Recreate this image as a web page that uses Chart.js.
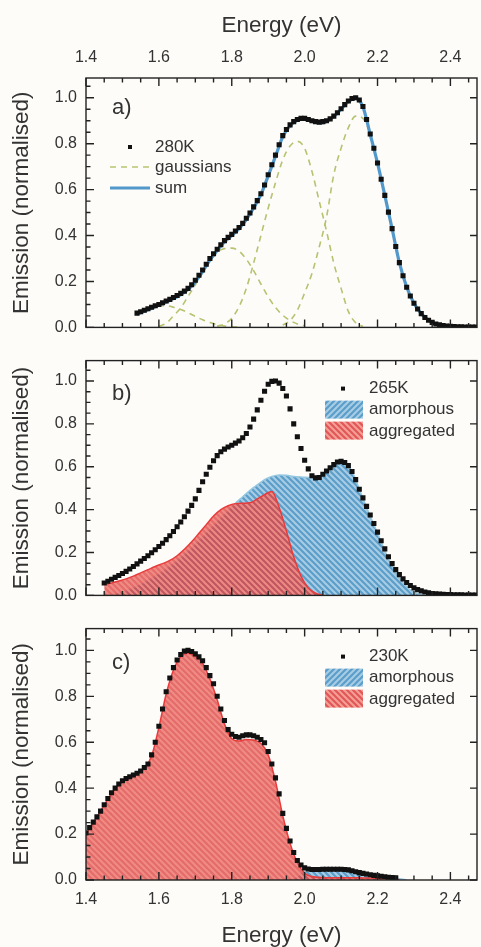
<!DOCTYPE html>
<html>
<head>
<meta charset="utf-8">
<script src="https://cdn.jsdelivr.net/npm/chart.js@4"></script>
<style>
  body { margin: 0; background: #fdfcf9; }
  #fig { position: relative; width: 481px; height: 947px; }
  .painel { position: absolute; left: 0; width: 481px; }
</style>
</head>
<body>
<div id="fig">
  <div class="painel" style="top:0;height:346px"><canvas id="graficoA"></canvas></div>
  <div class="painel" style="top:342px;height:272px"><canvas id="graficoB"></canvas></div>
  <div class="painel" style="top:610px;height:337px"><canvas id="graficoC"></canvas></div>
</div>
<script>
// ticks
const ticksX = [1.4, 1.6, 1.8, 2.0, 2.2, 2.4]
const ticksY = [0, 0.2, 0.4, 0.6, 0.8, 1.0]

// a) 280K, energia de 1.54 a 2.47 passo 0.01
const inicioA = 1.54
const dados280 = [
  .062,.068,.075,.081,.088,.094,.100,.107,.115,.122,
  .130,.139,.148,.158,.170,.186,.205,.227,.250,.275,
  .300,.321,.340,.360,.378,.392,.405,.420,.435,.453,
  .475,.498,.525,.552,.582,.620,.665,.708,.750,.795,
  .835,.862,.882,.896,.905,.910,.910,.905,.900,.896,
  .894,.896,.900,.908,.920,.935,.952,.970,.986,.997,
  1.0,.990,.962,.905,.842,.780,.716,.645,.575,.502,
  .430,.352,.282,.225,.175,.137,.105,.080,.060,.043,
  .031,.022,.015,.011,.008,.006,.005,.004,.003,.003,
  .002,.002,.002,.002
]
// soma das gaussianas, passo 0.02 a partir de 1.54
const soma280 = [
  .058,.070,.083,.096,.110,.125,.143,.165,.198,.243,
  .293,.335,.372,.400,.430,.470,.520,.578,.660,.745,
  .830,.878,.902,.907,.897,.891,.897,.918,.950,.984,
  .997,.960,.840,.715,.575,.430,.282,.176,.105,.060,
  .031,.015,.008,.005,.003,.002,.002
]
// gaussianas, passo 0.02
const inicioG0 = 1.54
const gauss0 = [.065,.078,.088,.094,.094,.088,.078,.064,.048,.033,.021,.012,.006,.003,.001]
const inicioG1 = 1.60
const gauss1 = [.005,.018,.050,.085,.135,.185,.240,.290,.328,.343,.345,.332,.297,.247,.189,.133,.087,.053,.030,.015,.007]
const inicioG2 = 1.76
const gauss2 = [.005,.015,.040,.090,.170,.280,.400,.520,.630,.730,.790,.810,.780,.680,.550,.420,.280,.170,.070,.020,.005]
const inicioG3 = 1.94
const gauss3 = [.010,.030,.075,.150,.235,.350,.480,.665,.780,.870,.920,.910,.840,.715,.575,.430,.280,.175,.105,.060,.030,.015,.008,.004]

// b) 265K, 1.45 a 2.47 passo 0.01
const inicioB = 1.45
const dados265 = [
  .058,.066,.075,.084,.093,.102,.112,.123,.135,.147,
  .160,.172,.185,.199,.213,.228,.243,.260,.278,.298,
  .320,.342,.367,.393,.420,.450,.490,.530,.565,.598,
  .628,.652,.670,.682,.692,.700,.710,.720,.735,.755,
  .785,.822,.865,.910,.952,.985,.998,1.0,.990,.965,
  .930,.870,.800,.740,.685,.630,.590,.558,.548,.550,
  .565,.580,.595,.610,.622,.625,.620,.605,.578,.540,
  .495,.455,.415,.375,.335,.295,.255,.217,.180,.148,
  .120,.097,.077,.060,.046,.035,.027,.021,.016,.012,
  .009,.007,.006,.005,.004,.004,.003,.003,.003,.002,
  .002,.002,.002
]
// areas, passo 0.02
const inicioAmorfoB = 1.47
const amorfo265 = [
  0,.010,.020,.035,.050,.070,.090,.110,.135,.160,
  .190,.220,.255,.290,.325,.360,.395,.430,.460,.490,
  .515,.540,.555,.562,.560,.555,.552,.550,.548,.565,
  .595,.620,.620,.578,.495,.410,.330,.250,.170,.105,
  .060,.025,.008,0
]
const inicioAgregB = 1.45
const agregado265 = [
  .050,.058,.067,.077,.090,.105,.120,.135,.148,.163,
  .185,.215,.250,.290,.330,.370,.400,.418,.428,.430,
  .432,.450,.470,.485,.410,.300,.180,.090,.035,.010,0
]

// c) 230K, 1.40 a 2.25 passo 0.01
const inicioC = 1.40
const dados230 = [
  .205,.228,.252,.275,.300,.328,.355,.380,.400,.418,
  .432,.442,.450,.457,.465,.475,.490,.505,.545,.600,
  .670,.745,.820,.880,.925,.958,.982,.997,1.0,.995,
  .985,.972,.955,.925,.890,.855,.800,.745,.695,.655,
  .635,.625,.622,.628,.632,.632,.628,.622,.612,.598,
  .560,.505,.445,.375,.290,.225,.170,.120,.085,.065,
  .053,.048,.046,.046,.046,.047,.047,.047,.047,.047,
  .047,.046,.044,.040,.036,.032,.029,.026,.023,.020,
  .018,.016,.014,.012,.011,.010
]
const inicioAgregC = 1.40
const agregado230 = [
  .200,.250,.300,.352,.397,.428,.445,.460,.485,.540,
  .665,.810,.915,.972,.988,.975,.945,.875,.785,.680,
  .615,.605,.612,.610,.595,.545,.430,.280,.160,.075,
  .030,.015,.012,.010,.010,.010,.010,.010,.009,.009,
  .009,.008,.008,0
]
const inicioAmorfoC = 1.96
const amorfo230 = [0,.010,.035,.042,.043,.043,.043,.042,.041,.040,.033,.025,.020,.015,.010,.006,0]

const fonte = '"Liberation Sans", Arial, sans-serif'
const corTexto = '#333'

function serie(inicio, passo, valores) {
  return valores.map((v, i) => ({ x: +(inicio + i * passo).toFixed(3), y: v }))
}

function hachura(fundo, listra, sentido) {
  const c = document.createElement('canvas')
  c.width = 6; c.height = 6
  const g = c.getContext('2d')
  g.fillStyle = fundo
  g.fillRect(0, 0, 6, 6)
  g.strokeStyle = listra
  g.lineWidth = 2
  g.beginPath()
  if (sentido == '\\') {
    g.moveTo(-1, -1); g.lineTo(7, 7)
    g.moveTo(-1, 5); g.lineTo(1, 7)
    g.moveTo(5, -1); g.lineTo(7, 1)
  } else {
    g.moveTo(-1, 7); g.lineTo(7, -1)
    g.moveTo(-1, 1); g.lineTo(1, -1)
    g.moveTo(5, 7); g.lineTo(7, 5)
  }
  g.stroke()
  return g.createPattern(c, 'repeat')
}

const azulFill = hachura('rgb(92,158,202)', 'rgb(168,205,228)', '\\')
const vermelhoFill = hachura('rgba(220,66,66,0.78)', 'rgba(244,150,140,0.78)', '\\')
const azulLeg = hachura('rgb(92,158,202)', 'rgb(168,205,228)', '/')
const vermelhoLeg = hachura('rgb(226,88,88)', 'rgb(244,160,150)', '\\')

// marcas dos eixos, para dentro
const marcas = {
  id: 'marcas',
  afterDraw(chart) {
    const ctx = chart.ctx
    const a = chart.chartArea
    const x = chart.scales.x
    const y = chart.scales.y
    ctx.save()
    ctx.strokeStyle = '#222'
    ctx.lineWidth = 1.4
    ctx.strokeRect(a.left, a.top, a.right - a.left, a.bottom - a.top)
    ctx.beginPath()
    for (let i = 0; i <= 21; i++) {
      const v = 1.4 + i * 0.05
      const px = x.getPixelForValue(v)
      if (px > a.right) break
      const len = i % 4 == 0 ? 8 : 4.5
      ctx.moveTo(px, a.bottom); ctx.lineTo(px, a.bottom - len)
      ctx.moveTo(px, a.top); ctx.lineTo(px, a.top + len)
    }
    for (let i = 0; i <= 21; i++) {
      const py = y.getPixelForValue(i * 0.05)
      if (py < a.top) break
      const maior = i % 4 == 0
      const len = maior ? 8 : 4.5
      ctx.moveTo(a.left, py); ctx.lineTo(a.left + len, py)
      if (maior) { ctx.moveTo(a.right, py); ctx.lineTo(a.right - 7, py) }
    }
    ctx.stroke()
    ctx.restore()
  }
}

const legendaInterna = {
  id: 'legendaInterna',
  afterDraw(chart, args, o) {
    const ctx = chart.ctx
    const a = chart.chartArea
    ctx.save()
    ctx.textBaseline = 'middle'
    ctx.fillStyle = corTexto
    ctx.font = '22px ' + fonte
    ctx.fillText(o.rotulo, a.left + 26, a.top + o.rotuloY)
    ctx.font = '17px ' + fonte
    o.itens.forEach(it => {
      const yy = a.top + it.y
      if (it.tipo == 'ponto') {
        ctx.fillStyle = '#111'
        ctx.fillRect(a.left + it.mx - 2, yy - 2, 4, 4)
      } else if (it.tipo == 'linha') {
        ctx.strokeStyle = it.cor
        ctx.lineWidth = it.largura
        ctx.setLineDash(it.tracejado || [])
        ctx.beginPath()
        ctx.moveTo(a.left + it.x1, yy); ctx.lineTo(a.left + it.x2, yy)
        ctx.stroke()
        ctx.setLineDash([])
      } else if (it.tipo == 'area') {
        ctx.fillStyle = it.cor
        ctx.fillRect(a.left + it.x1, a.top + it.y1, it.x2 - it.x1, it.y2 - it.y1)
      }
      ctx.fillStyle = corTexto
      ctx.fillText(it.texto, a.left + it.tx, yy)
    })
    ctx.restore()
  }
}

function eixoY(max) {
  return {
    type: 'linear', min: 0, max: max,
    afterBuildTicks: s => { s.ticks = ticksY.map(v => ({ value: v })) },
    afterFit: s => { s.width = 86 },
    ticks: { color: corTexto, font: { family: fonte, size: 16 }, padding: 9, callback: v => v.toFixed(1) },
    grid: { display: false, drawTicks: false },
    border: { display: false },
    title: { display: true, text: 'Emission (normalised)', color: corTexto,
      font: { family: fonte, size: 22.5, lineHeight: 1 }, padding: { top: 11, bottom: 0 } }
  }
}

function eixoX(posicao, mostrar, altura, padTick, padTitulo) {
  return {
    type: 'linear', position: posicao, min: 1.4, max: 2.473, display: mostrar,
    afterBuildTicks: s => { s.ticks = ticksX.map(v => ({ value: v })) },
    afterFit: s => { s.height = altura },
    ticks: { color: corTexto, font: { family: fonte, size: 16 }, padding: padTick,
      maxRotation: 0, autoSkip: false, callback: v => v.toFixed(1) },
    grid: { display: false, drawTicks: false },
    border: { display: false },
    title: { display: true, text: 'Energy (eV)', color: corTexto,
      font: { family: fonte, size: 22.5, lineHeight: 1 }, padding: padTitulo }
  }
}

function pontos(dados, rotulo) {
  return { label: rotulo, data: dados, showLine: false, pointStyle: 'rect', pointRadius: 3.6,
    pointBackgroundColor: '#111', pointBorderWidth: 0, order: 0 }
}

function area(dados, padrao, borda, ordem) {
  return { data: dados, fill: 'origin', backgroundColor: padrao, borderColor: borda, borderWidth: 1.5,
    pointRadius: 0, cubicInterpolationMode: 'monotone', showLine: true, order: ordem }
}

function gauss(dados) {
  return { data: dados, borderColor: 'rgb(182,195,112)', borderWidth: 1.6, borderDash: [6, 5],
    pointRadius: 0, cubicInterpolationMode: 'monotone', showLine: true, fill: false, order: 2 }
}

Chart.defaults.font.family = fonte

new Chart(document.getElementById('graficoA'), {
  type: 'scatter',
  data: {
    datasets: [
      pontos(serie(inicioA, 0.01, dados280), '280K'),
      { data: serie(inicioA, 0.02, soma280), borderColor: 'rgb(82,152,202)', borderWidth: 3.2,
        pointRadius: 0, showLine: true, cubicInterpolationMode: 'monotone', order: 1 },
      gauss(serie(inicioG0, 0.02, gauss0)),
      gauss(serie(inicioG1, 0.02, gauss1)),
      gauss(serie(inicioG2, 0.02, gauss2)),
      gauss(serie(inicioG3, 0.02, gauss3))
    ]
  },
  options: {
    responsive: true, maintainAspectRatio: false, animation: false,
    layout: { padding: { bottom: 2, right: 1 } },
    scales: { x: eixoX('top', true, 78, 11, { top: 15, bottom: 0 }), y: eixoY(1.086) },
    plugins: {
      legend: { display: false }, tooltip: { enabled: false },
      legendaInterna: { rotulo: 'a)', rotuloY: 30, itens: [
        { tipo: 'ponto', mx: 44, y: 69, tx: 69, texto: '280K' },
        { tipo: 'linha', x1: 24, x2: 64, y: 89, tx: 69, texto: 'gaussians', cor: 'rgb(182,195,112)', largura: 1.6, tracejado: [6, 5] },
        { tipo: 'linha', x1: 24, x2: 64, y: 110, tx: 69, texto: 'sum', cor: 'rgb(82,152,202)', largura: 3.2 }
      ] }
    }
  },
  plugins: [marcas, legendaInterna]
})

new Chart(document.getElementById('graficoB'), {
  type: 'scatter',
  data: {
    datasets: [
      pontos(serie(inicioB, 0.01, dados265), '265K'),
      area(serie(inicioAgregB, 0.02, agregado265), vermelhoFill, 'rgb(232,60,60)', 1),
      area(serie(inicioAmorfoB, 0.02, amorfo265), azulFill, 'rgb(150,200,225)', 2)
    ]
  },
  options: {
    responsive: true, maintainAspectRatio: false, animation: false,
    layout: { padding: { top: 2, bottom: 2, right: 1 } },
    scales: { x: eixoX('bottom', false, 0, 0, 0), y: eixoY(1.095) },
    plugins: {
      legend: { display: false }, tooltip: { enabled: false },
      legendaInterna: { rotulo: 'b)', rotuloY: 33, itens: [
        { tipo: 'ponto', mx: 257, y: 28, tx: 283, texto: '265K' },
        { tipo: 'area', x1: 239, x2: 277, y1: 40, y2: 58, y: 49, tx: 283, texto: 'amorphous', cor: azulLeg },
        { tipo: 'area', x1: 239, x2: 277, y1: 61, y2: 79, y: 71, tx: 283, texto: 'aggregated', cor: vermelhoLeg }
      ] }
    }
  },
  plugins: [marcas, legendaInterna]
})

new Chart(document.getElementById('graficoC'), {
  type: 'scatter',
  data: {
    datasets: [
      pontos(serie(inicioC, 0.01, dados230), '230K'),
      area(serie(inicioAgregC, 0.02, agregado230), vermelhoFill, 'rgb(232,60,60)', 1),
      area(serie(inicioAmorfoC, 0.02, amorfo230), azulFill, 'rgb(150,200,225)', 2)
    ]
  },
  options: {
    responsive: true, maintainAspectRatio: false, animation: false,
    layout: { padding: { top: 2, right: 1 } },
    scales: { x: eixoX('bottom', true, 67, 10, { top: 0, bottom: 0 }), y: eixoY(1.095) },
    plugins: {
      legend: { display: false }, tooltip: { enabled: false },
      legendaInterna: { rotulo: 'c)', rotuloY: 34, itens: [
        { tipo: 'ponto', mx: 257, y: 28, tx: 283, texto: '230K' },
        { tipo: 'area', x1: 239, x2: 277, y1: 40, y2: 58, y: 49, tx: 283, texto: 'amorphous', cor: azulLeg },
        { tipo: 'area', x1: 239, x2: 277, y1: 61, y2: 79, y: 71, tx: 283, texto: 'aggregated', cor: vermelhoLeg }
      ] }
    }
  },
  plugins: [marcas, legendaInterna]
})
</script>
</body>
</html>
